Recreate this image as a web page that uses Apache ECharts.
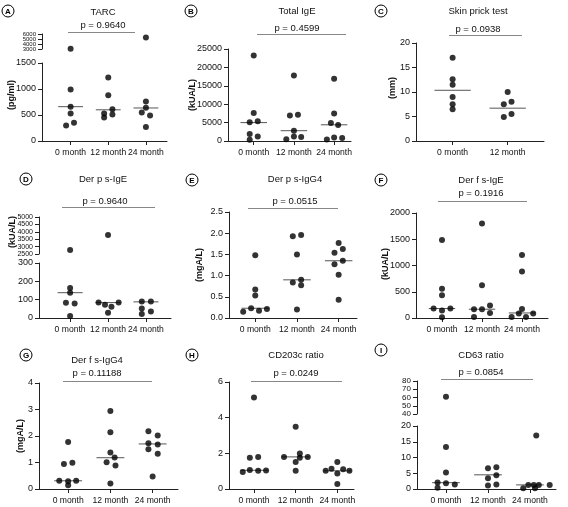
<!DOCTYPE html>
<html><head><meta charset="utf-8">
<script src="https://cdn.jsdelivr.net/npm/echarts@6/dist/echarts.min.js"></script>
<style>html,body{margin:0;padding:0;background:#fff}#c{width:568px;height:507px}</style>
</head><body><div id="c"></div>
<script>
// ---------- categories ----------
const categories3 = ['0 month', '12 month', '24 month'];
const categories2 = ['0 month', '12 month'];

// ---------- A: TARC (pg/ml) ----------
const tarc0 = [3050, 990, 660, 530, 350, 300];
const tarc12 = [1220, 880, 610, 530, 510, 450];
const tarc24 = [5300, 760, 640, 550, 490, 270];
const tarcMedian = [660, 600, 635];
// ---------- B: Total IgE (kUA/L) ----------
const ige0 = [23200, 7600, 5400, 5100, 1900, 1250, 350];
const ige12 = [17800, 7150, 6950, 2800, 1250, 1100, 450];
const ige24 = [16900, 7500, 4900, 4350, 980, 820, 420];
const igeMedian = [5000, 2800, 4400];
// ---------- C: Skin prick test (mm) ----------
const spt0 = [17, 12.6, 11.5, 9, 7.5, 6.5];
const spt12 = [10, 8, 7.5, 5.5, 4.9];
const sptMedian = [10.35, 6.7];
// ---------- D: Der p s-IgE (kUA/L) ----------
const dpIgE0 = [2770, 163, 138, 83, 79, 11];
const dpIgE12 = [3780, 84, 72, 61, 84, 29];
const dpIgE24 = [90, 90, 52, 36, 22];
const dpIgEMedian = [138, 84, 88];
// ---------- E: Der p s-IgG4 (mgA/L) ----------
const dpIgG0 = [1.48, 0.67, 0.53, 0.23, 0.21, 0.17, 0.15];
const dpIgG12 = [1.96, 1.93, 1.5, 0.9, 0.84, 0.77, 0.2];
const dpIgG24 = [1.77, 1.63, 1.54, 1.35, 1.27, 1.02, 0.43];
const dpIgGMedian = [0.23, 0.9, 1.35];
// ---------- F: Der f s-IgE (kUA/L) ----------
const dfIgE0 = [1488, 556, 435, 180, 180, 142, 13];
const dfIgE12 = [1800, 626, 237, 167, 167, 96, 19];
const dfIgE24 = [1200, 888, 172, 84, 84, 19, 19];
const dfIgEMedian = [180, 167, 96];
// ---------- G: Der f s-IgG4 (mgA/L) ----------
const dfIgG0 = [1.77, 0.99, 0.94, 0.31, 0.29, 0.31, 0.14];
const dfIgG12 = [2.94, 2.14, 1.38, 1.19, 1.01, 0.89, 0.21];
const dfIgG24 = [2.18, 2.02, 1.73, 1.68, 1.5, 1.33, 0.47];
const dfIgGMedian = [0.31, 1.18, 1.7];
// ---------- H: CD203c ratio ----------
const cd203c0 = [5.13, 1.8, 1.75, 1.06, 1.02, 1.04, 0.96];
const cd203c12 = [3.49, 1.99, 1.8, 1.8, 1.75, 1.51, 1.02];
const cd203c24 = [1.51, 1.13, 1.11, 1.02, 1.02, 0.87, 0.28];
const cd203cMedian = [1.05, 1.8, 1.02];
// ---------- I: CD63 ratio ----------
const cd63_0 = [61, 13.3, 5.2, 2.1, 1.8, 1.45, 0.4];
const cd63_12 = [6.9, 6.6, 4.4, 3.4, 1.4, 1.1];
const cd63_24 = [17, 1.3, 1.3, 1.3, 1.3, 0.25, 0.2];
const cd63Median = [2.0, 4.5, 1.3];

// ---------- horizontal spread of the dots (category units) ----------
const tarcSpread = [[0,0,0,0,0.09,-0.12],[0,0,0.11,-0.11,0.11,-0.11],[0,0,0,-0.11,0.11,0]];
const igeSpread = [[0,0,0.1,-0.1,-0.1,0.1,-0.1],[0,0.1,-0.1,0,0,0.18,-0.19],[0,0,-0.08,0.1,0,0.2,-0.18]];
const sptSpread = [[0,0,0,0,0,0],[0,0.07,-0.07,0.07,-0.07]];
const dpIgESpread = [[0,0,0,-0.11,0.12,0],[0,-0.25,-0.08,0.09,0.28,0],[-0.11,0.13,-0.11,0.13,-0.11]];
const dpIgGSpread = [[0,0,0,-0.1,0.28,0.09,-0.29],[0.1,-0.1,0,0.1,-0.1,0.1,0],[0,0.1,-0.1,0.1,-0.1,0,0]];
const dfIgESpread = [[0,0,0,-0.21,0.21,0,0],[0,0,0.2,-0.2,0,0.2,-0.2],[0,0,0,-0.08,0.28,-0.26,0.1]];
const dfIgGSpread = [[0,0.1,-0.1,-0.21,0,0.19,0],[0,0,0,0.1,-0.09,0.12,0],[-0.1,0.12,-0.1,0.12,-0.1,0.12,0]];
const cd203cSpread = [[0,0.1,-0.1,-0.1,0.1,0.29,-0.27],[0,0.1,-0.28,0.29,0.1,0,0],[0,-0.14,0.14,-0.28,0.29,0,0]];
const cd63Spread = [[0,0,0,-0.2,0,0.21,-0.2],[0.2,0,0.2,0,0.2,0],[0.15,-0.04,0.09,0.21,0.47,-0.16,0.12]];

const FONT = '"Liberation Sans", Arial, Helvetica, sans-serif';
const AX = '#222';
const TXT = '#111';
const FS = 9;
const FSX = 8.6;

const panels = [
  { letter:'A', letterPos:[8,11], title:'TARC', titlePos:[103,12], p:'p = 0.9640', pPos:[103,25], pLine:[68,135,32],
    yName:'(pg/ml)', yNamePos:[12,95], cats:categories3, groups:[tarc0,tarc12,tarc24], spread:tarcSpread, med:tarcMedian,
    left:42, right:167, bottom:141, xmin:-0.76, xmax:2.56,
    lower:{top:63, min:0, max:1500, interval:500}, upper:{top:34, bottom:49, min:3000, max:6000, interval:1000, fs:6, manual:true} },
  { letter:'B', letterPos:[191,11], title:'Total IgE', titlePos:[297,11], p:'p = 0.4599', pPos:[297,28], pLine:[257,346,34],
    yName:'(kUA/L)', yNamePos:[193,95], cats:categories3, groups:[ige0,ige12,ige24], spread:igeSpread, med:igeMedian,
    left:228, right:351, bottom:141, xmin:-0.64, xmax:2.42,
    lower:{top:49, min:0, max:25000, interval:5000} },
  { letter:'C', letterPos:[381,11], title:'Skin prick test', titlePos:[478,11], p:'p = 0.0938', pPos:[478,29], pLine:[449,522,35],
    yName:'(mm)', yNamePos:[393,88], cats:categories2, groups:[spt0,spt12], spread:sptSpread, med:sptMedian,
    left:416, right:544, bottom:141, xmin:-0.665, xmax:1.66,
    lower:{top:43, min:0, max:20, interval:5} },
  { letter:'D', letterPos:[26,179], title:'Der p s-IgE', titlePos:[103,179], p:'p = 0.9640', pPos:[105,201], pLine:[62,155,207],
    yName:'(kUA/L)', yNamePos:[13,232], cats:categories3, groups:[dpIgE0,dpIgE12,dpIgE24], spread:dpIgESpread, med:dpIgEMedian,
    left:39, right:171, bottom:318, xmin:-0.82, xmax:2.66,
    lower:{top:263, min:0, max:300, interval:100}, upper:{top:217, bottom:254, min:2500, max:5000, interval:500, fs:7} },
  { letter:'E', letterPos:[192,180], title:'Der p s-IgG4', titlePos:[295,179], p:'p = 0.0515', pPos:[295,201], pLine:[248,338,208],
    yName:'(mgA/L)', yNamePos:[200,265], cats:categories3, groups:[dpIgG0,dpIgG12,dpIgG24], spread:dpIgGSpread, med:dpIgGMedian,
    left:229, right:357, bottom:318, xmin:-0.63, xmax:2.44,
    lower:{top:212, min:0, max:2.5, interval:0.5, dec:1} },
  { letter:'F', letterPos:[381,180], title:'Der f s-IgE', titlePos:[481,180], p:'p = 0.1916', pPos:[481,193], pLine:[438,527,201],
    yName:'(kUA/L)', yNamePos:[386,264], cats:categories3, groups:[dfIgE0,dfIgE12,dfIgE24], spread:dfIgESpread, med:dfIgEMedian,
    left:416, right:548, bottom:318, xmin:-0.65, xmax:2.65,
    lower:{top:213, min:0, max:2000, interval:500} },
  { letter:'G', letterPos:[26,355], title:'Der f s-IgG4', titlePos:[97,360], p:'p = 0.11188', pPos:[97,373], pLine:[63,152,381],
    yName:'(mgA/L)', yNamePos:[21,436], cats:categories3, groups:[dfIgG0,dfIgG12,dfIgG24], spread:dfIgGSpread, med:dfIgGMedian,
    left:39, right:178, bottom:489, xmin:-0.69, xmax:2.6,
    lower:{top:383, min:0, max:4, interval:1} },
  { letter:'H', letterPos:[192,355], title:'CD203c ratio', titlePos:[296,355], p:'p = 0.0249', pPos:[296,373], pLine:[251,342,381],
    yName:'', yNamePos:[0,0], cats:categories3, groups:[cd203c0,cd203c12,cd203c24], spread:cd203cSpread, med:cd203cMedian,
    left:229, right:354, bottom:489, xmin:-0.6, xmax:2.4,
    lower:{top:382, min:0, max:6, interval:2} },
  { letter:'I', letterPos:[381,350], title:'CD63 ratio', titlePos:[481,355], p:'p = 0.0854', pPos:[481,372], pLine:[441,533,379],
    yName:'', yNamePos:[0,0], cats:categories3, groups:[cd63_0,cd63_12,cd63_24], spread:cd63Spread, med:cd63Median,
    left:417, right:556, bottom:489, xmin:-0.69, xmax:2.62,
    lower:{top:426, min:0, max:20, interval:5}, upper:{top:381, bottom:414, min:40, max:80, interval:10, fs:8} }
];

const grids = [], xAxes = [], yAxes = [], series = [], graphics = [];
const manualLabelAxes = [];

function segTicks(seg) {
  const out = [];
  for (let v = seg.min; v <= seg.max + 1e-9; v += seg.interval) out.push(+v.toFixed(6));
  return out;
}

function addGrid(p, top, height, seg, showX) {
  const gi = grids.length;
  grids.push({ left:p.left, top:top, width:p.right - p.left, height:height, containLabel:false, outerBoundsMode:'none' });
  const tickVals = p.cats.map((_, i) => i);
  xAxes.push({ type:'value', gridIndex:gi, min:p.xmin, max:p.xmax, show:showX, splitLine:{show:false},
    axisLine:{show:true, onZero:false, lineStyle:{color:AX, width:1}},
    axisTick:{show:true, customValues:tickVals, length:4, lineStyle:{color:AX}},
    axisLabel:{show:true, customValues:tickVals, formatter:(v) => p.cats[Math.round(v)], fontSize:FSX, color:TXT, margin:7,
      fontFamily:FONT, hideOverlap:false, showMinLabel:true, showMaxLabel:true} });
  const fs = seg.fs || FS;
  const yTicks = segTicks(seg);
  yAxes.push({ type:'value', gridIndex:gi, min:seg.min, max:seg.max, interval:seg.interval, splitLine:{show:false},
    axisLine:{show:true, onZero:false, lineStyle:{color:AX, width:1}},
    axisTick:{show:true, customValues:yTicks, length:4, lineStyle:{color:AX}},
    axisLabel:{show:!seg.manual, customValues:yTicks, fontSize:fs, color:TXT, margin:6, fontFamily:FONT, hideOverlap:false,
      showMinLabel:true, showMaxLabel:true, formatter:(v) => seg.dec ? Number(v).toFixed(seg.dec) : String(v)} });
  if (seg.manual) manualLabelAxes.push({ gi:gi, ticks:yTicks, x:p.left - 6, fs:fs });
  return gi;
}

panels.forEach((p) => {
  const low = addGrid(p, p.lower.top, p.bottom - p.lower.top, p.lower, true);
  let up = null;
  if (p.upper) up = addGrid(p, p.upper.top, p.upper.bottom - p.upper.top, p.upper, false);
  const lowData = [], upData = [];
  p.groups.forEach((vals, g) => {
    vals.forEach((v, k) => {
      const pt = [g + p.spread[g][k], v];
      if (up !== null && v > p.lower.max) upData.push(pt); else lowData.push(pt);
    });
  });
  const dot = { type:'scatter', symbol:'circle', symbolSize:6, itemStyle:{color:'#000'}, silent:true, animation:false, z:4, clip:false };
  series.push(Object.assign({}, dot, { xAxisIndex:low, yAxisIndex:low, data:lowData }));
  if (up !== null) series.push(Object.assign({}, dot, { xAxisIndex:up, yAxisIndex:up, data:upData }));
  p.med.forEach((m, g) => {
    series.push({ type:'line', xAxisIndex:low, yAxisIndex:low, data:[[g - 0.33, m], [g + 0.33, m]], symbol:'none',
      lineStyle:{color:'#555', width:1}, silent:true, animation:false, z:3 });
  });
  graphics.push({ type:'circle', shape:{cx:p.letterPos[0], cy:p.letterPos[1], r:6}, style:{fill:'#fff', stroke:'#000', lineWidth:1} });
  graphics.push({ type:'text', x:p.letterPos[0], y:p.letterPos[1] + 0.5, style:{text:p.letter, fontSize:8, fontWeight:'bold', fontFamily:FONT, fill:'#000', align:'center', verticalAlign:'middle'} });
  graphics.push({ type:'text', x:p.titlePos[0], y:p.titlePos[1], style:{text:p.title, fontSize:FS + 0.5, fontFamily:FONT, fill:TXT, align:'center', verticalAlign:'middle'} });
  graphics.push({ type:'text', x:p.pPos[0], y:p.pPos[1], style:{text:p.p, fontSize:FS + 0.5, fontFamily:FONT, fill:TXT, align:'center', verticalAlign:'middle'} });
  graphics.push({ type:'line', shape:{x1:p.pLine[0], y1:p.pLine[2] + 0.5, x2:p.pLine[1], y2:p.pLine[2] + 0.5}, style:{stroke:'#888', lineWidth:1} });
  if (p.yName) graphics.push({ type:'text', x:p.yNamePos[0], y:p.yNamePos[1], rotation:Math.PI / 2,
    style:{text:p.yName, fontSize:FS, fontWeight:'bold', fontFamily:FONT, fill:TXT, align:'center', verticalAlign:'middle'} });
});

const chart = echarts.init(document.getElementById('c'), null, { renderer:'canvas' });
chart.setOption({ animation:false, backgroundColor:'#fff', grid:grids, xAxis:xAxes, yAxis:yAxes, series:series });
// tightly packed tick labels of compressed axis segments: placed through the axis' own scale
manualLabelAxes.forEach((m) => {
  m.ticks.forEach((v) => {
    const y = chart.convertToPixel({ yAxisIndex:m.gi }, v);
    graphics.push({ type:'text', x:m.x, y:y, style:{text:String(v), fontSize:m.fs, fontFamily:FONT, fill:TXT, align:'right', verticalAlign:'middle'} });
  });
});
chart.setOption({ graphic:{ elements:graphics } });
</script></body></html>
